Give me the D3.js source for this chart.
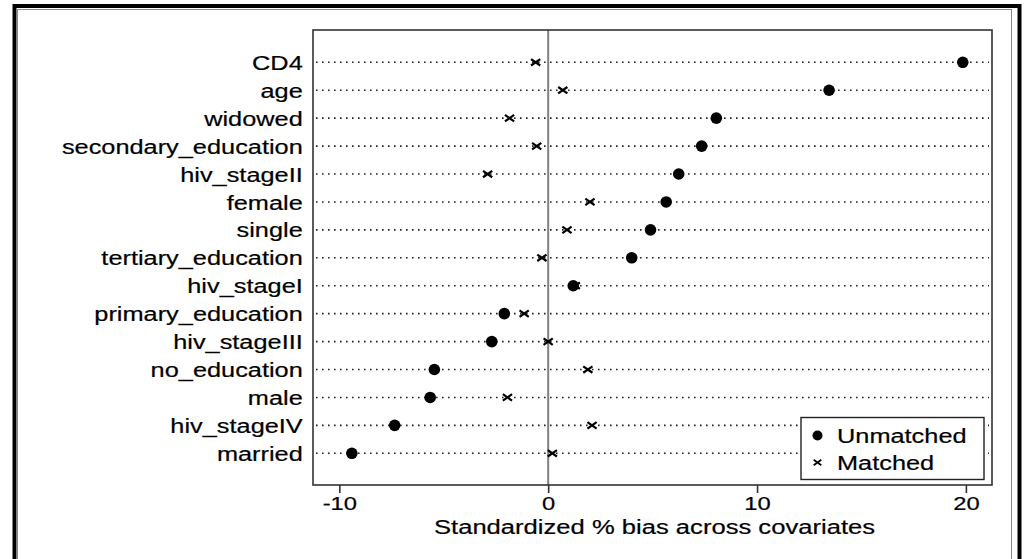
<!DOCTYPE html>
<html>
<head>
<meta charset="utf-8">
<script src="https://cdn.jsdelivr.net/npm/d3@7"></script>
<style>
  body { margin: 0; background: #fff; }
  svg text { font-family: "Liberation Sans", Arial, sans-serif; fill: #000; stroke: #000; stroke-width: 0.2px; }
</style>
</head>
<body>
<div id="chart"></div>
<script>
// covariates, top to bottom
const covariates = ["CD4", "age", "widowed", "secondary_education", "hiv_stageII", "female",
    "single", "tertiary_education", "hiv_stageI", "primary_education", "hiv_stageIII",
    "no_education", "male", "hiv_stageIV", "married"];
// standardized % bias before matching
const unmatched = [19.85, 13.45, 8.05, 7.35, 6.25, 5.65, 4.9, 4.0, 1.2, -2.1, -2.7, -5.45, -5.65, -7.35, -9.4];
// standardized % bias after matching
const matched = [-0.6, 0.7, -1.85, -0.55, -2.9, 2.0, 0.9, -0.3, 1.3, -1.15, 0.0, 1.9, -1.95, 2.1, 0.2];
const xTicks = [-10, 0, 10, 20];
const legendLabels = ["Unmatched", "Matched"];

const W = 1024, H = 559;
const plot = {left: 313, right: 992, top: 30, bottom: 485};
const sx = 1.28; // reference text is stretched horizontally

const svg = d3.select("#chart").append("svg")
    .attr("width", W).attr("height", H);

// outer frame
svg.append("rect")
    .attr("x", 14.5).attr("y", 6).attr("width", 1005).attr("height", 600)
    .attr("fill", "none").attr("stroke", "#000").attr("stroke-width", 4);
svg.append("rect")
    .attr("x", 17.5).attr("y", 9.5).attr("width", 994).attr("height", 600)
    .attr("fill", "none").attr("stroke", "#888").attr("stroke-width", 1);

const x = d3.scaleLinear().domain([-11.26, 21.25]).range([plot.left, plot.right]);
const y = d3.scalePoint().domain(covariates).range([62.3, 453.3]);

// dotted row lines
svg.append("g").selectAll("line")
    .data(covariates)
    .enter()
    .append("line")
    .attr("x1", plot.left + 3)
    .attr("x2", plot.right - 3)
    .attr("y1", d => y(d))
    .attr("y2", d => y(d))
    .attr("stroke", "#222")
    .attr("stroke-width", 1.6)
    .attr("stroke-dasharray", "1.6,4.4");

// zero reference
svg.append("line")
    .attr("x1", x(0)).attr("x2", x(0))
    .attr("y1", plot.top).attr("y2", plot.bottom)
    .attr("stroke", "#808080").attr("stroke-width", 2);

// plot frame
svg.append("rect")
    .attr("x", plot.left).attr("y", plot.top)
    .attr("width", plot.right - plot.left).attr("height", plot.bottom - plot.top)
    .attr("fill", "none").attr("stroke", "#333").attr("stroke-width", 1.6);

// x axis
const xAxis = svg.append("g")
    .attr("transform", "translate(0," + plot.bottom + ")")
    .call(d3.axisBottom(x).tickValues(xTicks).tickSize(8).tickPadding(4).tickFormat(d3.format("d")));
xAxis.select(".domain").remove();
xAxis.selectAll(".tick line").attr("stroke", "#333").attr("stroke-width", 1.6);
xAxis.selectAll(".tick text")
    .attr("font-size", 19)
    .attr("transform", "scale(1.25,1)")
    .text(d => d < 0 ? "-" + Math.abs(d) : d);

svg.append("text")
    .attr("transform", "translate(" + ((plot.left + plot.right) / 2 + 2) + ",534) scale(" + sx + ",1)")
    .attr("text-anchor", "middle")
    .attr("font-size", 20)
    .text("Standardized % bias across covariates");

// y axis labels
const yAxis = svg.append("g")
    .attr("transform", "translate(" + plot.left + ",0)")
    .call(d3.axisLeft(y).tickSize(0).tickPadding(8));
yAxis.select(".domain").remove();
yAxis.selectAll(".tick text")
    .attr("font-size", 19.8)
    .attr("dy", "0.36em")
    .attr("transform", "scale(" + sx + ",1)");

// unmatched dots
svg.append("g").selectAll("circle")
    .data(covariates)
    .enter()
    .append("circle")
    .attr("cx", (d, i) => x(unmatched[i]))
    .attr("cy", d => y(d))
    .attr("r", 5.8)
    .attr("fill", "#000");

// matched crosses
const cross = (s) => "M" + (-s) + "," + (-s * 0.7) + "L" + s + "," + (s * 0.7) +
    "M" + (-s) + "," + (s * 0.7) + "L" + s + "," + (-s * 0.7);
svg.append("g").selectAll("path")
    .data(covariates)
    .enter()
    .append("path")
    .attr("transform", (d, i) => "translate(" + x(matched[i]) + "," + y(d) + ")")
    .attr("d", cross(4.6))
    .attr("stroke", "#000")
    .attr("stroke-width", 2.2)
    .attr("fill", "none");

// legend
const lg = svg.append("g");
lg.append("rect")
    .attr("x", 801).attr("y", 417.5).attr("width", 183).attr("height", 62)
    .attr("fill", "#fff").attr("stroke", "#222").attr("stroke-width", 1.4);
lg.append("circle").attr("cx", 817.5).attr("cy", 435.5).attr("r", 5).attr("fill", "#000");
lg.append("path")
    .attr("transform", "translate(817.5,462.5)")
    .attr("d", cross(3.8))
    .attr("stroke", "#000").attr("stroke-width", 1.8).attr("fill", "none");
legendLabels.forEach((t, i) => {
    lg.append("text")
        .attr("transform", "translate(837," + (442.5 + i * 27) + ") scale(" + sx + ",1)")
        .attr("font-size", 19.8)
        .text(t);
});
</script>
</body>
</html>
